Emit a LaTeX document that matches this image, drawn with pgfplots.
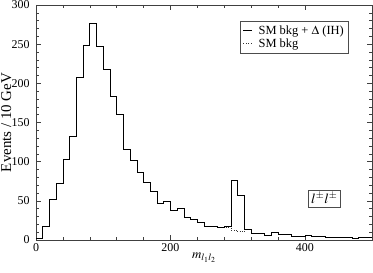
\documentclass[border=0pt]{standalone}
\usepackage{mathptmx}
\usepackage{fontspec}
\setmainfont{Liberation Serif}
\usepackage{pgfplots}
\pgfplotsset{compat=1.18}
\pgfplotstableread{
x y
0 2
10 18
20 52
30 72
40 103
50 133
60 208
70 248
80 276
90 247
100 218
110 183
120 161
130 116
140 102
150 87
160 74
170 62
180 47
190 49
200 38
210 40
220 29
230 27
240 23
250 18
260 17
270 16
280 18
290 76
300 57
310 14
320 9
330 8.5
340 6
350 10
360 7
370 7
380 5
390 5
400 6
410 5
420 5
430 3.5
440 3
450 4
460 4
470 2.5
480 3
490 3
500 3
}\sig
\pgfplotstableread{
x y
250 18
260 17
270 16
280 16
290 13
300 10.5
310 14
320 14
}\bkg
\begin{document}
\begin{tikzpicture}
\begin{axis}[
 scale only axis, width=336bp, height=235bp,
 xmin=0, xmax=500, ymin=0, ymax=300,
 xtick={0,200,400}, minor x tick num=4,
 ytick={0,50,...,300}, minor y tick num=4,
 tick align=inside, major tick length=5bp, minor tick length=3bp,
 axis line style={line width=0.6pt, black!75},
 every tick/.style={black!75, line width=0.5pt},
 tick label style={font=\fontsize{12}{12}\selectfont},
 yticklabel style={xshift=-3bp},
 /pgf/number format/assume math mode=true,
 ylabel={Events / 10 GeV},
 ylabel style={font=\fontsize{15}{15}\selectfont, at={(axis description cs:0,0.5)}, anchor=north, inner sep=0pt, yshift=35bp},
 xlabel={$m_{l_1l_2}$},
 xlabel style={font=\fontsize{13}{13}\selectfont, at={(axis description cs:0.5,0)}, anchor=north, inner sep=0pt, yshift=-13bp},
 legend style={at={(0.93,0.933)}, anchor=north east, draw=black!70, font=\fontsize{12.5}{14}\selectfont, row sep=-1pt, inner sep=2.5pt,
   /tikz/every odd column/.append style={column sep=4pt}},
 legend cell align=left,
 reverse legend,
 legend image code/.code={\draw[#1] (0bp,0bp) -- (9bp,0bp);},
]
\addplot[const plot mark left, dotted, black!80, line width=0.6pt] table {\bkg};
\addlegendentry{SM bkg}
\addplot[const plot mark left, black, line width=0.6pt] table {\sig};
\addlegendentry{SM bkg + $\Delta$ (IH)}
\node[draw=black!70, inner sep=3bp, font=\fontsize{14}{14}\selectfont] at (axis cs:429,53) {$l^{\pm}l^{\pm}$};
\end{axis}
\pgfresetboundingbox
\path ([shift={(-36bp,-33bp)}]current axis.south west) rectangle ([shift={(1bp,5bp)}]current axis.north east);
\end{tikzpicture}
\end{document}
